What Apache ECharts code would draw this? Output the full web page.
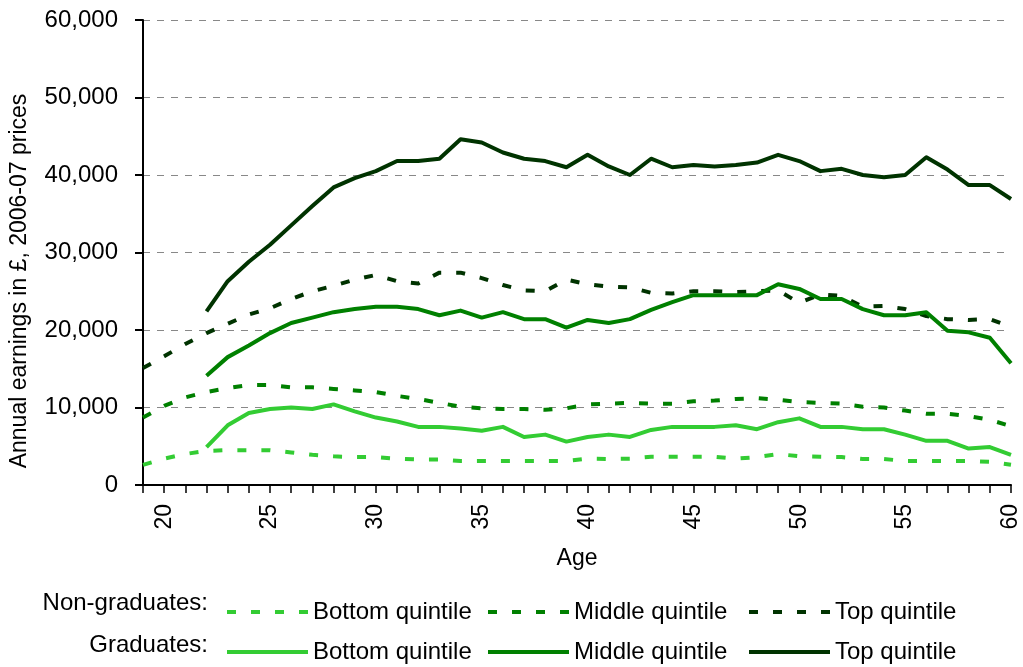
<!DOCTYPE html>
<html>
<head>
<meta charset="utf-8">
<script src="https://cdn.jsdelivr.net/npm/echarts@6/dist/echarts.min.js"></script>
<style>
html,body{margin:0;padding:0;background:#fff;}
#c{width:1023px;height:667px;}
</style>
</head>
<body>
<div id="c"></div>
<script>
var ages = [19,20,21,22,23,24,25,26,27,28,29,30,31,32,33,34,35,36,37,38,39,40,41,42,43,44,45,46,47,48,49,50,51,52,53,54,55,56,57,58,59,60];
var yTicks = [0,10000,20000,30000,40000,50000,60000];
var seriesNames = ['Bottom quintile','Middle quintile','Top quintile'];

var nonGradBottom = [2600,3400,4000,4400,4500,4500,4500,4200,3900,3700,3600,3600,3400,3300,3300,3100,3100,3100,3100,3100,3100,3400,3350,3400,3650,3650,3650,3650,3400,3600,4000,3700,3650,3600,3350,3350,3100,3100,3100,3100,3000,2600];
var nonGradMiddle = [8700,10200,11300,12000,12500,12900,12900,12600,12600,12400,12200,12000,11500,11100,10600,10100,9900,9800,9800,9700,9900,10400,10500,10600,10500,10500,10800,10900,11100,11200,11000,10700,10600,10500,10100,10000,9600,9200,9200,8900,8400,7600];
var nonGradTop = [15100,16600,18200,19600,20800,22000,22800,24000,25000,25700,26500,27100,26300,26000,27400,27400,26700,25800,25100,25000,26500,25900,25600,25500,24800,24700,25000,25000,24900,25000,25100,23500,24600,24400,23000,23100,22700,21800,21400,21300,21400,20400];
var gradBottom = [null,null,null,4900,7700,9300,9800,10000,9800,10400,9500,8700,8200,7500,7500,7300,7000,7500,6200,6500,5600,6200,6500,6200,7100,7500,7500,7500,7700,7200,8100,8600,7500,7500,7200,7200,6500,5700,5700,4700,4900,3900];
var gradMiddle = [null,null,null,14100,16500,18000,19600,20900,21600,22300,22700,23000,23000,22700,21900,22500,21600,22300,21400,21400,20300,21300,20900,21400,22600,23600,24500,24500,24500,24500,25900,25300,24000,24000,22700,21900,21900,22300,19900,19700,19000,15700];
var gradTop = [null,null,null,22400,26300,28800,31000,33500,36000,38400,39600,40500,41800,41800,42100,44600,44200,42900,42100,41800,41000,42600,41100,40000,42100,41000,41300,41100,41300,41600,42600,41800,40500,40800,40000,39700,40000,42300,40700,38700,38700,36900];

var colors = ['#33CC33','#008000','#003300'];
var FONT = 'Liberation Sans, Arial, sans-serif';
var DASH_ICON = 'path://M0,0h9v4h-9zM24,0h9v4h-9zM48,0h9v4h-9zM72,0h9v4h-9z';
var SOLID_ICON = 'path://M0,0h81v4h-81z';

function pairs(vals){
  var out = [];
  for (var i=0;i<ages.length;i++){ out.push([ages[i], vals[i]]); }
  return out;
}
function mkSeries(name, vals, color, dashed){
  return {
    name: name,
    type: 'line',
    data: pairs(vals),
    symbol: 'none',
    showSymbol: false,
    connectNulls: false,
    animation: false,
    lineStyle: {color: color, width: 4, type: dashed ? [9,15] : 'solid', cap: 'butt', join: 'round'},
    itemStyle: {color: color},
    emphasis: {disabled: true}
  };
}
var series = [
  mkSeries('ng|' + seriesNames[0], nonGradBottom, colors[0], true),
  mkSeries('ng|' + seriesNames[1], nonGradMiddle, colors[1], true),
  mkSeries('ng|' + seriesNames[2], nonGradTop, colors[2], true),
  mkSeries('g|' + seriesNames[0], gradBottom, colors[0], false),
  mkSeries('g|' + seriesNames[1], gradMiddle, colors[1], false),
  mkSeries('g|' + seriesNames[2], gradTop, colors[2], false)
];

var legendLefts = [227, 488, 749];
var legendTops = [600, 640];
var legends = [];
['ng','g'].forEach(function(p, r){
  seriesNames.forEach(function(n, i){
    legends.push({
      data: [{name: p + '|' + n, icon: r === 0 ? DASH_ICON : SOLID_ICON, itemStyle: {color: colors[i]}}],
      left: legendLefts[i],
      top: legendTops[r],
      padding: 0,
      itemWidth: 81,
      itemHeight: 4,
      itemGap: 0,
      selectedMode: false,
      formatter: function(name){ return name.split('|')[1]; },
      textStyle: {fontFamily: FONT, fontSize: 24, color: '#000', lineHeight: 24, padding: [0,0,0,0]}
    });
  });
});

var chart = echarts.init(document.getElementById('c'), null, {renderer: 'canvas'});
chart.setOption({
  backgroundColor: '#fff',
  animation: false,
  textStyle: {fontFamily: FONT},
  grid: {left: 143, right: 12, top: 20, bottom: 182, containLabel: false},
  legend: legends,
  xAxis: {
    type: 'value',
    min: 19, max: 60, interval: 1,
    name: 'Age',
    nameLocation: 'middle',
    nameGap: 62,
    nameTextStyle: {fontFamily: FONT, fontSize: 23, color: '#000'},
    axisLine: {show: true, onZero: false, lineStyle: {color: '#000', width: 2}},
    axisTick: {show: true, inside: false, length: 8, lineStyle: {color: '#000', width: 1.5}},
    axisLabel: {
      rotate: 90, margin: 19, fontFamily: FONT, fontSize: 23, color: '#000',
      formatter: function(v){ return (v % 5 === 0) ? String(v) : ''; },
      showMinLabel: true, showMaxLabel: true, hideOverlap: false
    },
    splitLine: {show: false}
  },
  yAxis: {
    type: 'value',
    min: yTicks[0], max: yTicks[yTicks.length-1], interval: yTicks[1]-yTicks[0],
    axisLine: {show: true, lineStyle: {color: '#000', width: 2}},
    axisTick: {show: true, inside: false, length: 8, lineStyle: {color: '#000', width: 2}},
    axisLabel: {
      margin: 25, fontFamily: FONT, fontSize: 24, color: '#000',
      formatter: function(v){ return String(v).replace(/\B(?=(\d{3})+(?!\d))/g, ','); }
    },
    splitLine: {show: true, lineStyle: {color: '#888', width: 1, type: [7,7]}}
  },
  graphic: [
    {type: 'text', x: 20, y: 281, rotation: Math.PI/2,
     style: {text: 'Annual earnings in £, 2006-07 prices', fontFamily: FONT, fontSize: 23, fill: '#000', align: 'center', verticalAlign: 'middle'}},
    {type: 'text', x: 208, y: 603,
     style: {text: 'Non-graduates:', fontFamily: FONT, fontSize: 24, fill: '#000', align: 'right', verticalAlign: 'middle'}},
    {type: 'text', x: 208, y: 645,
     style: {text: 'Graduates:', fontFamily: FONT, fontSize: 24, fill: '#000', align: 'right', verticalAlign: 'middle'}}
  ],
  series: series
});
</script>
</body>
</html>
